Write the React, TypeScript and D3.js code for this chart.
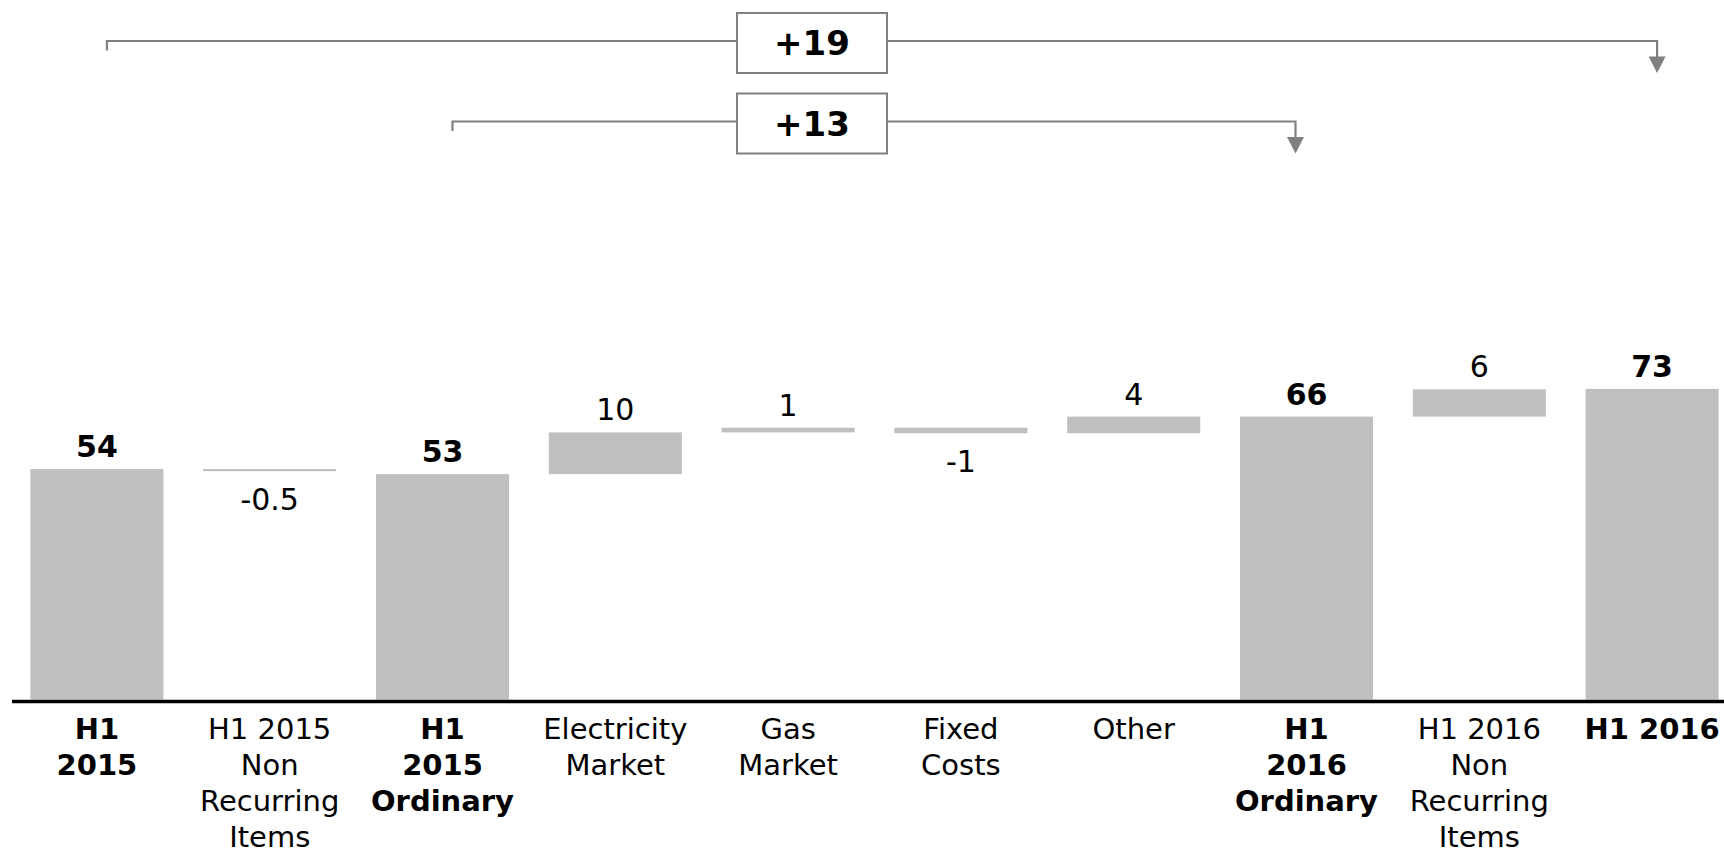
import React from "react";
import * as d3 from "d3";

const categories: string[][] = [
  ["H1", "2015"],
  ["H1 2015", "Non", "Recurring", "Items"],
  ["H1", "2015", "Ordinary"],
  ["Electricity", "Market"],
  ["Gas", "Market"],
  ["Fixed", "Costs"],
  ["Other"],
  ["H1", "2016", "Ordinary"],
  ["H1 2016", "Non", "Recurring", "Items"],
  ["H1 2016"],
];
const values: number[] = [54.1, -0.5, 52.9, 9.8, 1.1, -1.3, 3.9, 66.4, 6.4, 72.9];
const isTotal: boolean[] = [true, false, true, false, false, false, false, true, false, true];
const valueLabels: string[] = ["54", "-0.5", "53", "10", "1", "-1", "4", "66", "6", "73"];

const bracketLabels: string[] = ["+19", "+13"];
const bracketFrom: number[] = [0, 2];
const bracketTo: number[] = [9, 7];

const W = 1724;
const H = 853;
const FONT = "'DejaVu Sans', Verdana, sans-serif";
const BAR = "#bfbfbf";
const GREY = "#808080";

export default function App() {
  const x = d3
    .scaleBand<number>()
    .domain(d3.range(categories.length))
    .range([10.5, 1738.5])
    .paddingInner(0.23)
    .paddingOuter(0.115);
  const y = d3.scaleLinear().domain([0, 73]).range([699.5, 388.5]);

  let run = 0;
  const bars = values.map((v, i) => {
    let lo: number, hi: number;
    if (isTotal[i]) {
      lo = 0;
      hi = v;
      run = v;
    } else {
      lo = run;
      hi = run + v;
      run = hi;
    }
    return { i, start: lo, end: hi, v };
  });

  const bw = x.bandwidth();
  const cx = (i: number) => (x(i) as number) + bw / 2;

  const bracketYs = [41, 121.5];
  const tickOffsets = [10, 10];
  const arrowOffsets = [5, -11];
  const boxCx = 812;
  const boxW = 150;
  const boxH = 60;

  return (
    <svg
      width={W}
      height={H}
      style={{ position: "absolute", left: 0, top: 0, background: "#fff" }}
      fontFamily={FONT}
    >
      <rect x={0} y={0} width={W} height={H} fill="#fff" />
      {bars.map((b) => {
        const top = y(Math.max(b.start, b.end));
        const bot = y(Math.min(b.start, b.end));
        const h = Math.max(bot - top, 1.5);
        const neg = !isTotal[b.i] && b.v < 0;
        return (
          <g key={b.i}>
            <rect x={x(b.i)} y={top} width={bw} height={h} fill={BAR} />
            <text
              x={cx(b.i)}
              y={neg ? top + h + 39 : top - 12}
              textAnchor="middle"
              fontSize={30}
              fontWeight={isTotal[b.i] ? "bold" : "normal"}
              fill="#000"
            >
              {valueLabels[b.i]}
            </text>
          </g>
        );
      })}
      <line x1={12} x2={W} y1={701.5} y2={701.5} stroke="#000" strokeWidth={3.5} />
      {categories.map((lines, i) => (
        <text
          key={i}
          x={cx(i)}
          y={738.5}
          textAnchor="middle"
          fontSize={29}
          fontWeight={isTotal[i] ? "bold" : "normal"}
          fill="#000"
        >
          {lines.map((l, j) => (
            <tspan key={j} x={cx(i)} dy={j === 0 ? 0 : 36.3}>
              {l}
            </tspan>
          ))}
        </text>
      ))}
      {bracketLabels.map((lab, k) => {
        const yl = bracketYs[k];
        const x1 = cx(bracketFrom[k]) + tickOffsets[k];
        const x2 = cx(bracketTo[k]) + arrowOffsets[k];
        return (
          <g key={k}>
            <path
              d={`M${x1},${yl + 9.5}V${yl}H${x2}V${yl + 17}`}
              fill="none"
              stroke={GREY}
              strokeWidth={2.2}
            />
            <path
              d={`M${x2 - 8.5},${yl + 15.5}L${x2 + 8.5},${yl + 15.5}L${x2},${yl + 32}Z`}
              fill={GREY}
            />
            <rect
              x={boxCx - boxW / 2}
              y={yl - boxH / 2 + 2}
              width={boxW}
              height={boxH}
              fill="#fff"
              stroke={GREY}
              strokeWidth={2}
            />
            <text
              x={boxCx}
              y={yl + 14}
              textAnchor="middle"
              fontSize={34}
              fontWeight="bold"
              fill="#000"
            >
              {lab}
            </text>
          </g>
        );
      })}
    </svg>
  );
}
